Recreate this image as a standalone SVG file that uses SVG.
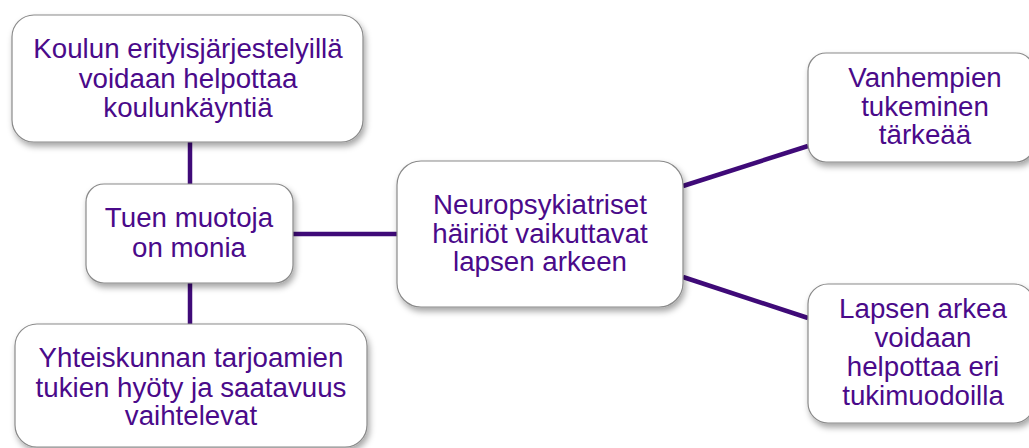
<svg xmlns="http://www.w3.org/2000/svg" width="1029" height="448" viewBox="0 0 1029 448">
<defs>
<filter id="sh" x="-10%" y="-10%" width="125%" height="130%">
<feDropShadow dx="2" dy="4" stdDeviation="3" flood-color="#000" flood-opacity="0.35"/>
</filter>
<style>
.box{fill:#fff;stroke:#8a8a8a;stroke-width:1.2;filter:url(#sh)}
.t{font-family:"Liberation Sans",Arial,sans-serif;font-size:27.7px;fill:#4a0a8a;text-anchor:middle}
.c{stroke:#3f0a78;stroke-width:4.5;fill:none}
</style>
</defs>
<rect width="1029" height="448" fill="#fff"/>
<g id="connectors">
<line class="c" x1="190" y1="142" x2="190" y2="184"/>
<line class="c" x1="190" y1="283" x2="190" y2="324"/>
<line class="c" x1="293" y1="234" x2="398" y2="234"/>
<line class="c" x1="683" y1="186" x2="808" y2="146"/>
<line class="c" x1="683" y1="277" x2="808" y2="318"/>
</g>
<g id="n1">
<rect class="box" x="12" y="15" width="351" height="127" rx="22"/>
<text class="t"><tspan x="188" y="58">Koulun erityisjärjestelyillä</tspan><tspan x="188" y="88">voidaan helpottaa</tspan><tspan x="188" y="117">koulunkäyntiä</tspan></text>
</g>
<g id="n2">
<rect class="box" x="86" y="184" width="207" height="99" rx="18"/>
<text class="t"><tspan x="189" y="227">Tuen muotoja</tspan><tspan x="189" y="257">on monia</tspan></text>
</g>
<g id="n3">
<rect class="box" x="15" y="324" width="352" height="123" rx="22"/>
<text class="t"><tspan x="191" y="367">Yhteiskunnan tarjoamien</tspan><tspan x="191" y="397">tukien hyöty ja saatavuus</tspan><tspan x="191" y="425">vaihtelevat</tspan></text>
</g>
<g id="n4">
<rect class="box" x="397" y="161" width="286" height="146" rx="24"/>
<text class="t"><tspan x="540" y="214">Neuropsykiatriset</tspan><tspan x="540" y="243">häiriöt vaikuttavat</tspan><tspan x="540" y="271">lapsen arkeen</tspan></text>
</g>
<g id="n5">
<rect class="box" x="808" y="53" width="226" height="109" rx="18"/>
<text class="t"><tspan x="925" y="87">Vanhempien</tspan><tspan x="925" y="116">tukeminen</tspan><tspan x="925" y="144">tärkeää</tspan></text>
</g>
<g id="n6">
<rect class="box" x="808" y="284" width="226" height="139" rx="20"/>
<text class="t"><tspan x="923" y="318">Lapsen arkea</tspan><tspan x="923" y="347">voidaan</tspan><tspan x="923" y="376">helpottaa eri</tspan><tspan x="923" y="405">tukimuodoilla</tspan></text>
</g>
</svg>
